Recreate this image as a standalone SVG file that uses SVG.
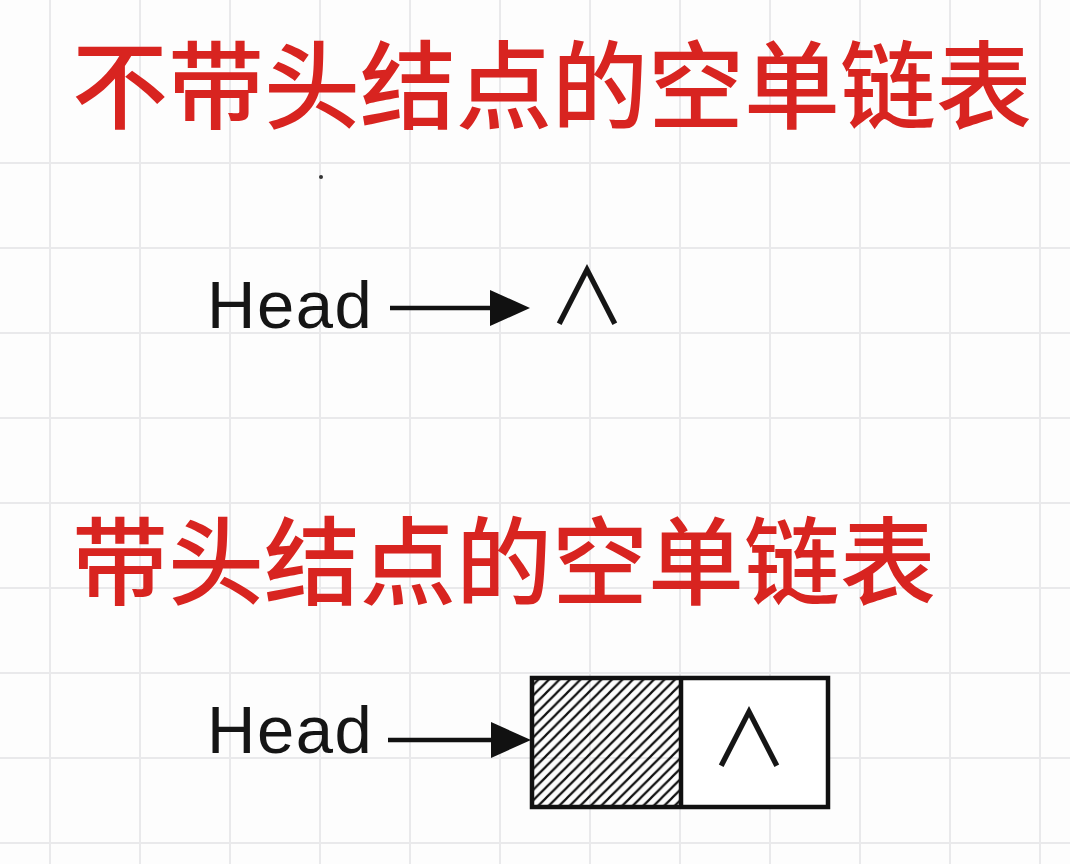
<svg xmlns="http://www.w3.org/2000/svg" width="1070" height="864" viewBox="0 0 1070 864">
  <style>
    .grid line { stroke: #e9e9eb; stroke-width: 2; }
    .title { font-family: "Noto Sans CJK SC", "Noto Sans", sans-serif; font-size: 96px; font-weight: 500; fill: #d82420; }
    .label { font-family: "Liberation Sans", Arial, sans-serif; font-size: 67px; fill: #151515; letter-spacing: 1.5px; }
    .null { font-family: "Noto Sans CJK SC", "DejaVu Sans", sans-serif; font-size: 78px; fill: #151515; text-anchor: middle; }
    .conn { stroke: #111; stroke-width: 4.5; fill: none; }
    .box { stroke: #111; stroke-width: 4.5; }
  </style>
  <defs>
    <marker id="arrow" markerUnits="userSpaceOnUse" markerWidth="40" markerHeight="36" viewBox="0 0 40 36" refX="0" refY="18" orient="auto">
      <path d="M0,0 L40,18 L0,36 Z" fill="#111"/>
    </marker>
    <pattern id="hatch" patternUnits="userSpaceOnUse" width="10.5" height="10.5">
      <path d="M0,10.5 L10.5,0 M-2.625,2.625 L2.625,-2.625 M7.875,13.125 L13.125,7.875" stroke="#111" stroke-width="2.2"/>
    </pattern>
  </defs>
  <rect x="0" y="0" width="1070" height="864" fill="#fdfdfd"/>
  <g class="grid">
    <line x1="50" y1="0" x2="50" y2="864"/>
    <line x1="140" y1="0" x2="140" y2="864"/>
    <line x1="230" y1="0" x2="230" y2="864"/>
    <line x1="320" y1="0" x2="320" y2="864"/>
    <line x1="410" y1="0" x2="410" y2="864"/>
    <line x1="500" y1="0" x2="500" y2="864"/>
    <line x1="590" y1="0" x2="590" y2="864"/>
    <line x1="680" y1="0" x2="680" y2="864"/>
    <line x1="770" y1="0" x2="770" y2="864"/>
    <line x1="860" y1="0" x2="860" y2="864"/>
    <line x1="950" y1="0" x2="950" y2="864"/>
    <line x1="1040" y1="0" x2="1040" y2="864"/>
    <line x1="0" y1="163" x2="1070" y2="163"/>
    <line x1="0" y1="248" x2="1070" y2="248"/>
    <line x1="0" y1="333" x2="1070" y2="333"/>
    <line x1="0" y1="418" x2="1070" y2="418"/>
    <line x1="0" y1="503" x2="1070" y2="503"/>
    <line x1="0" y1="588" x2="1070" y2="588"/>
    <line x1="0" y1="673" x2="1070" y2="673"/>
    <line x1="0" y1="758" x2="1070" y2="758"/>
    <line x1="0" y1="843" x2="1070" y2="843"/>
  </g>
  <g id="title-no-head">
    <text class="title" x="72" y="121">不带头结点的空单链表</text>
  </g>
  <circle cx="321" cy="177" r="2" fill="#333"/>
  <g id="head1">
    <text class="label" x="207" y="328">Head</text>
  </g>
  <g id="null1">
    <text class="null" x="587" y="325">∧</text>
  </g>
  <g id="title-with-head">
    <text class="title" x="72" y="597">带头结点的空单链表</text>
  </g>
  <g id="head2">
    <text class="label" x="207" y="753">Head</text>
  </g>
  <g id="headnode">
    <rect x="532" y="678" width="149" height="129" fill="url(#hatch)"/>
    <rect x="681" y="678" width="147" height="129" fill="#fff"/>
    <rect class="box" x="532" y="678" width="296" height="129" fill="none"/>
    <line class="box" x1="681" y1="678" x2="681" y2="807"/>
    <text class="null" x="749" y="767">∧</text>
  </g>
  <g id="connectors">
    <line class="conn" x1="390" y1="308" x2="490" y2="308" marker-end="url(#arrow)"/>
    <line class="conn" x1="388" y1="740" x2="491" y2="740" marker-end="url(#arrow)"/>
  </g>
</svg>
